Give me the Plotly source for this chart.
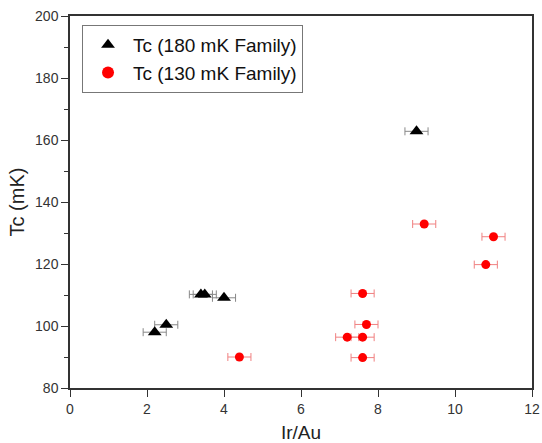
import plotly.graph_objects as go

# 180 mK family
x180 = [2.2, 2.5, 3.4, 3.5, 4.0, 9.0]
y180 = [98.0, 100.4, 110.2, 110.2, 109.1, 162.8]
xerr180 = [0.3, 0.3, 0.3, 0.3, 0.3, 0.3]

# 130 mK family
x130 = [4.4, 7.6, 7.7, 7.2, 7.6, 7.6, 9.2, 11.0, 10.8]
y130 = [90.0, 110.5, 100.5, 96.4, 96.4, 89.8, 132.9, 128.8, 119.8]
xerr130 = [0.3, 0.3, 0.3, 0.3, 0.3, 0.3, 0.3, 0.3, 0.3]

FONT = "Liberation Sans, Arial, sans-serif"

fig = go.Figure()
fig.add_trace(go.Scatter(
    x=x180, y=y180, mode="markers", name="Tc (180 mK Family)",
    marker=dict(symbol="triangle-up", size=12, color="black"),
    error_x=dict(type="data", array=xerr180, color="#888888", thickness=1, width=4),
))
fig.add_trace(go.Scatter(
    x=x130, y=y130, mode="markers", name="Tc (130 mK Family)",
    marker=dict(symbol="circle", size=9, color="#ff0000"),
    error_x=dict(type="data", array=xerr130, color="#f08080", thickness=1, width=4),
))

axis_common = dict(
    showline=True, linecolor="#333333", linewidth=1.5, mirror=True,
    ticks="outside", ticklen=7, tickwidth=1, tickcolor="#333333",
    showgrid=False, zeroline=False, automargin=False,
    ticklabeloverflow="allow",
    tickfont=dict(family=FONT, size=14, color="#333333"),
)

fig.update_xaxes(range=[0, 12], dtick=2, **axis_common,
                 title=dict(text="Ir/Au", font=dict(family=FONT, size=19, color="#222222"), standoff=30))
fig.update_yaxes(range=[80, 200], dtick=20, **axis_common,
                 minor=dict(dtick=10, ticks="outside", ticklen=4, tickcolor="#333333"),
                 title=dict(text="Tc (mK)", font=dict(family=FONT, size=20, color="#222222"), standoff=5))

fig.update_layout(
    width=542, height=443,
    margin=dict(l=70, r=10, t=16, b=55),
    plot_bgcolor="white", paper_bgcolor="white",
    showlegend=True,
    legend=dict(x=0.026, y=0.976, xanchor="left", yanchor="top",
                bordercolor="#777777", borderwidth=1, bgcolor="white",
                font=dict(family=FONT, size=19, color="#111111"),
                tracegroupgap=0, itemsizing="constant", itemwidth=40),
)

fig.write_html(
    "out.html",
    config={"displayModeBar": False},
    post_script="document.body.style.margin='0';document.body.style.overflow='hidden';",
)
